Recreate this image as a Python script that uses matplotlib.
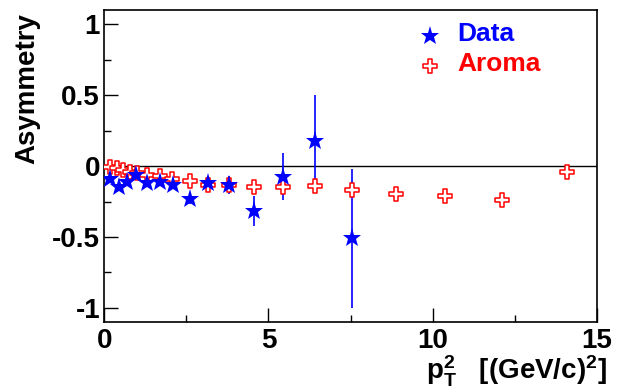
import numpy as np
import matplotlib.pyplot as plt
from matplotlib.path import Path
from matplotlib.ticker import MultipleLocator

plt.rcParams['font.family'] = ['Liberation Sans', 'DejaVu Sans']
plt.rcParams['font.weight'] = 'bold'
plt.rcParams['mathtext.fontset'] = 'custom'
plt.rcParams['mathtext.rm'] = 'Liberation Sans:bold'
plt.rcParams['mathtext.bf'] = 'Liberation Sans:bold'
plt.rcParams['mathtext.it'] = 'Liberation Sans:bold'

# Data (blue stars)
data_x = [0.17, 0.46, 0.68, 0.96, 1.29, 1.69, 2.09, 2.61, 3.17, 3.80, 4.55, 5.43, 6.42, 7.55]
data_y = [-0.094, -0.15, -0.11, -0.06, -0.12, -0.11, -0.13, -0.235, -0.117, -0.134,
          -0.317, -0.075, 0.178, -0.51]
data_err = [0.02, 0.02, 0.02, 0.02, 0.02, 0.02, 0.025, 0.03, 0.045, 0.065,
            0.105, 0.165, 0.32, 0.49]

# Aroma (red open crosses)
aroma_x = [0.17, 0.38, 0.58, 0.80, 0.99, 1.29, 1.70, 2.05, 2.61, 3.17, 3.80, 4.55,
           5.43, 6.42, 7.55, 8.87, 10.37, 12.11, 14.08]
aroma_y = [-0.005, -0.015, -0.025, -0.04, -0.05, -0.06, -0.07, -0.09, -0.105, -0.13,
           -0.13, -0.145, -0.15, -0.14, -0.168, -0.2, -0.21, -0.24, -0.045]

# open cross marker (ROOT style 28)
a, b = 0.33, 1.0
cross = Path([(-a, b), (a, b), (a, a), (b, a), (b, -a), (a, -a), (a, -b),
              (-a, -b), (-a, -a), (-b, -a), (-b, a), (-a, a), (-a, b)], closed=True)

fig = plt.figure(figsize=(6.22, 3.89), dpi=100)
ax = fig.add_axes([0.1675, 0.172, 0.7925, 0.802])

ax.axhline(0, color='black', lw=1)

ax.errorbar(data_x, data_y, yerr=data_err, fmt='none', ecolor='blue', elinewidth=1.2, zorder=3)
ax.plot(aroma_x, aroma_y, linestyle='none', marker=cross, markersize=10,
        markerfacecolor='white', markeredgecolor='red', markeredgewidth=1.1, zorder=4)
ax.plot(data_x, data_y, linestyle='none', marker='*', markersize=14,
        color='blue', markeredgewidth=0, zorder=5)

ax.set_xlim(0, 15)
ax.set_ylim(-1.1, 1.1)
ax.xaxis.set_minor_locator(MultipleLocator(2.5))
ax.yaxis.set_minor_locator(MultipleLocator(0.25))
ax.set_xticks([0, 5, 10, 15])
ax.set_xticklabels(['0', '5', '10', '15'])
ax.set_yticks([-1, -0.5, 0, 0.5, 1])
ax.set_yticklabels(['-1', '-0.5', '0', '0.5', '1'])
ax.tick_params(which='both', direction='in', top=False, right=False, width=1)
ax.tick_params(which='major', length=10, labelsize=20)
ax.tick_params(axis='y', which='major', pad=3)
ax.tick_params(axis='x', which='major', pad=4)
ax.tick_params(which='minor', length=5)
for s in ax.spines.values():
    s.set_linewidth(1.2)

ax.set_ylabel('Asymmetry', fontsize=20, fontweight='bold')
ax.yaxis.set_label_coords(-0.13, 0.75)
ax.set_xlabel(r'$\mathbf{p_{T}^{2}}$   [(GeV/c)$^{\mathbf{2}}$]', fontsize=20,
              fontweight='bold', ha='right')
ax.xaxis.set_label_coords(1.02, -0.10)

# legend
ax.plot([0.661], [0.917], transform=ax.transAxes, marker='*', markersize=14,
        color='blue', markeredgewidth=0, clip_on=False)
ax.plot([0.661], [0.821], transform=ax.transAxes, marker=cross, markersize=10,
        markerfacecolor='white', markeredgecolor='red', markeredgewidth=1.1, clip_on=False)
ax.text(0.716, 0.924, 'Data', transform=ax.transAxes, color='blue', fontsize=19,
        fontweight='bold', va='center', ha='left')
ax.text(0.716, 0.828, 'Aroma', transform=ax.transAxes, color='red', fontsize=19,
        fontweight='bold', va='center', ha='left')

fig.savefig('out.png', dpi=100)
